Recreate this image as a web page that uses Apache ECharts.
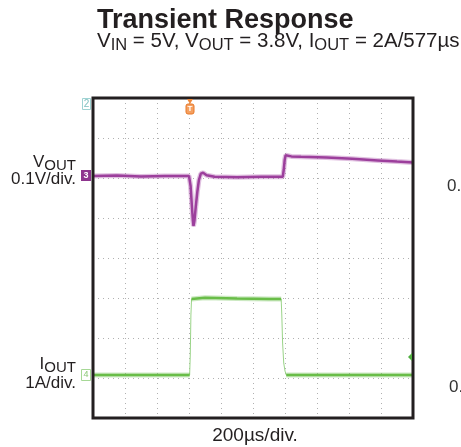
<!DOCTYPE html>
<html><head><meta charset="utf-8">
<script src="https://cdn.jsdelivr.net/npm/echarts@6/dist/echarts.min.js"></script>
<style>html,body{margin:0;padding:0;background:#fff;}#c{width:461px;height:447px;}</style>
</head><body><div id="c"></div>
<script>
// ---- data ----
// time axis: 200 µs/div, 10 divisions
const xDivisions = 10;
const usPerDiv = 200;
const yDivisions = 8;
// VOUT trace (time µs, volts); 0.1 V/div, reference 3.8 V
const vTime = [0, 150, 300, 450, 600, 604, 610, 618, 624, 628, 634, 642, 652, 662, 674, 688, 710, 760, 900, 1050, 1186, 1192, 1198, 1204, 1240, 1300, 1460, 1620, 1780, 1900, 2000];
const vout  = [3.800, 3.801, 3.799, 3.800, 3.800, 3.798, 3.775, 3.725, 3.690, 3.675, 3.688, 3.722, 3.760, 3.790, 3.806, 3.808, 3.802, 3.798, 3.797, 3.798, 3.798, 3.815, 3.840, 3.852, 3.849, 3.848, 3.846, 3.843, 3.839, 3.836, 3.834];
// IOUT trace (time µs, amps); 1 A/div, reference 0 A
const iTime = [0, 300, 604, 608, 612, 616, 622, 700, 900, 1100, 1176, 1180, 1185, 1192, 1200, 1208, 1500, 2000];
const iout  = [0, 0, 0, 0.5, 1.5, 1.9, 1.94, 1.93, 1.91, 1.90, 1.90, 1.5, 0.8, 0.3, 0.1, 0, 0, 0];

const vPts = vTime.map((t, k) => [t, vout[k]]);
const iPts = iTime.map((t, k) => [t, iout[k]]);
const iLevelPts = iPts.map(p => (p[1] > 0.05 && p[1] < 1.85) ? [p[0], null] : p);

// axis windows (div-based scope screen)
const vRef = 3.8, vPerDiv = 0.1, vRefDivFromTop = 1.95;
const iRef = 0, iPerDiv = 1, iRefDivFromTop = 6.925;

const txt = '#231f20';
const FF = 'Liberation Sans, Arial, Helvetica, sans-serif';

const chart = echarts.init(document.getElementById('c'), null, {renderer: 'canvas'});

function label(x, y, text, size, opts) {
  return {
    type: 'text', x: x, y: y, silent: true, z: 50,
    style: Object.assign({
      text: text, fill: txt, fontSize: size, fontFamily: FF,
      textAlign: 'left', align: 'left', textVerticalAlign: 'middle', verticalAlign: 'middle'
    }, opts || {})
  };
}
const richDef = {
  m: {fontSize: 20.5, fontFamily: FF, lineHeight: 24, fill: txt, color: txt},
  s: {fontSize: 16.5, fontFamily: FF, lineHeight: 16, verticalAlign: 'bottom', fill: txt, color: txt}
};
const richLbl = {
  m: {fontSize: 17, fontFamily: FF, lineHeight: 22, fill: txt, color: txt},
  s: {fontSize: 15, fontFamily: FF, lineHeight: 14, verticalAlign: 'bottom', fill: txt, color: txt}
};

const option = {
  animation: false,
  backgroundColor: '#fff',
  grid: {left: 93, top: 98, width: 320, height: 320, show: false},
  xAxis: {
    type: 'value', min: 0, max: xDivisions * usPerDiv, interval: usPerDiv,
    axisLine: {show: false}, axisTick: {show: false}, axisLabel: {show: false},
    splitLine: {show: true, lineStyle: {color: '#b0b0b0', type: [1, 4], width: 1}}
  },
  yAxis: [
    {type: 'value', min: 0, max: yDivisions, interval: 1,
     axisLine: {show: false}, axisTick: {show: false}, axisLabel: {show: false},
     splitLine: {show: true, lineStyle: {color: '#b0b0b0', type: [1, 4], width: 1}}},
    {type: 'value', show: false,
     min: vRef - (yDivisions - vRefDivFromTop) * vPerDiv, max: vRef + vRefDivFromTop * vPerDiv},
    {type: 'value', show: false,
     min: iRef - (yDivisions - iRefDivFromTop) * iPerDiv, max: iRef + iRefDivFromTop * iPerDiv}
  ],
  series: [
    {type: 'line', yAxisIndex: 2, data: iPts, showSymbol: false, silent: true,
     lineStyle: {color: '#9ad488', width: 1}},
    {type: 'line', yAxisIndex: 2, data: iLevelPts, showSymbol: false, silent: true, connectNulls: false,
     lineStyle: {color: 'rgba(110,192,80,0.35)', width: 5}},
    {type: 'line', yAxisIndex: 2, data: iLevelPts, showSymbol: false, silent: true, connectNulls: false,
     lineStyle: {color: '#69bd48', width: 2.5}},
    {type: 'line', yAxisIndex: 1, data: vPts, showSymbol: false, silent: true,
     lineStyle: {color: 'rgba(165,75,165,0.35)', width: 5}},
    {type: 'line', yAxisIndex: 1, data: vPts, showSymbol: false, silent: true,
     lineStyle: {color: '#9c3f9c', width: 2.5}}
  ],
  graphic: [
    {type: 'rect', z: 100, silent: true, shape: {x: 93, y: 98, width: 320, height: 320},
     style: {fill: null, stroke: '#231f20', lineWidth: 3}},
    label(97, 20.5, 'Transient Response', 27, {fontWeight: 'bold'}),
    {type: 'text', x: 97, y: 29.5, silent: true, z: 50,
     style: {text: '{m|V}{s|IN}{m| = 5V, V}{s|OUT}{m| = 3.8V, I}{s|OUT}{m| = 2A/577µs}', rich: richDef,
             fill: txt, textAlign: 'left', align: 'left', textVerticalAlign: 'top', verticalAlign: 'top'}},
    {type: 'text', x: 76, y: 151, silent: true, z: 50,
     style: {text: '{m|V}{s|OUT}', rich: richLbl, fill: txt, textAlign: 'right', align: 'right', textVerticalAlign: 'top', verticalAlign: 'top'}},
    label(76, 179, '0.1V/div.', 17, {textAlign: 'right', align: 'right'}),
    {type: 'text', x: 76, y: 353, silent: true, z: 50,
     style: {text: '{m|I}{s|OUT}', rich: richLbl, fill: txt, textAlign: 'right', align: 'right', textVerticalAlign: 'top', verticalAlign: 'top'}},
    label(76, 383, '1A/div.', 17, {textAlign: 'right', align: 'right'}),
    label(255, 436, '200µs/div.', 19, {textAlign: 'center', align: 'center'}),
    label(447, 186, '0.', 17, {fill: '#333'}),
    label(449, 387, '0.', 17, {fill: '#333'}),
    // channel markers
    {type: 'rect', z: 50, shape: {x: 82.5, y: 98.5, width: 8, height: 11}, style: {fill: '#fff', stroke: '#9fd3d3', lineWidth: 1}, silent: true},
    label(86.5, 104.5, '2', 10, {fill: '#7fc0c0', textAlign: 'center', align: 'center'}),
    {type: 'rect', z: 50, shape: {x: 81, y: 170, width: 10, height: 11}, style: {fill: '#8e358e'}, silent: true},
    label(86, 175.5, '3', 9, {fill: '#fff', textAlign: 'center', align: 'center', fontWeight: 'bold'}),
    {type: 'rect', z: 50, shape: {x: 81.5, y: 369.5, width: 9, height: 11}, style: {fill: '#fff', stroke: '#a6d896', lineWidth: 1}, silent: true},
    label(86, 375, '4', 9, {fill: '#8cc878', textAlign: 'center', align: 'center'}),
    // trigger marker
    {type: 'polygon', z: 110, shape: {points: [[187, 99], [193, 99], [190, 104]]}, style: {fill: '#f08a3c'}, silent: true},
    {type: 'rect', z: 110, shape: {x: 186, y: 104, width: 8, height: 10, r: 2}, style: {fill: '#f5a060', stroke: '#e87828', lineWidth: 1}, silent: true},
    Object.assign(label(190, 109, 'T', 8, {fill: '#fff', textAlign: 'center', align: 'center', fontWeight: 'bold'}), {z: 111}),
    // trigger level arrow
    {type: 'polygon', z: 110, shape: {points: [[408, 357], [412, 353], [412, 361]]}, style: {fill: '#4fae3f'}, silent: true}
  ]
};
chart.setOption(option);
</script>
</body></html>
